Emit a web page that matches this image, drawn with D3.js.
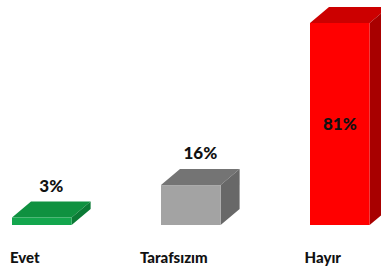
<!DOCTYPE html>
<html>
<head>
<meta charset="utf-8">
<script src="https://cdn.jsdelivr.net/npm/d3@7"></script>
<style>
  body { margin: 0; background: #fff; }
  svg { display: block; font-family: Lato, "Open Sans", sans-serif; }
</style>
</head>
<body>
<div id="chart"></div>
<script>
// data
const categories = ["Evet", "Tarafsızım", "Hayır"];
const values = [3, 16, 81];
const frontColors = ["#13a64d", "#a3a3a3", "#ff0000"];
const topColors = ["#0f9140", "#747474", "#cc0000"];
const sideColors = ["#0b7a35", "#686868", "#a80000"];

const w = 381;
const h = 269;
const baseY = 225;
const depthX = 19;
const depthY = 16;

const svg = d3.select("#chart")
  .append("svg")
  .attr("width", w)
  .attr("height", h);

const xScale = d3.scaleBand()
  .domain(categories)
  .range([12, 369.6])
  .paddingInner(0.6)
  .paddingOuter(0);

const yScale = d3.scaleLinear()
  .domain([0, 81])
  .range([baseY, 23]);

const bw = xScale.bandwidth();

const bars = svg.append("g")
  .selectAll("g")
  .data(values)
  .enter()
  .append("g");

// top face
bars.append("path")
  .attr("fill", (d, i) => topColors[i])
  .attr("d", (d, i) => {
    const x = xScale(categories[i]);
    const y = yScale(d);
    return `M${x},${y} L${x + depthX},${y - depthY} L${x + bw + depthX},${y - depthY} L${x + bw},${y} Z`;
  });

// side face
bars.append("path")
  .attr("fill", (d, i) => sideColors[i])
  .attr("d", (d, i) => {
    const x = xScale(categories[i]) + bw;
    const y = yScale(d);
    return `M${x},${y} L${x + depthX},${y - depthY} L${x + depthX},${baseY - depthY} L${x},${baseY} Z`;
  });

// front face
bars.append("rect")
  .attr("fill", (d, i) => frontColors[i])
  .attr("x", (d, i) => xScale(categories[i]))
  .attr("y", d => yScale(d))
  .attr("width", bw)
  .attr("height", d => baseY - yScale(d));

// value labels: above the box, or inside when there is no room
bars.append("text")
  .attr("text-anchor", "middle")
  .attr("font-size", "17px")
  .attr("font-weight", "900")
  .attr("fill", "#111")
  .attr("x", (d, i) => {
    const inside = yScale(d) - depthY - 30 < 0;
    return xScale(categories[i]) + bw / 2 + (inside ? 0 : depthX / 2);
  })
  .attr("y", d => {
    const top = yScale(d);
    if (top - depthY - 30 < 0) {
      return (top + baseY) / 2 + 6;
    }
    return top - depthY - 10;
  })
  .text(d => d + "%");

// category labels
svg.append("g")
  .selectAll("text")
  .data(categories)
  .enter()
  .append("text")
  .attr("text-anchor", "middle")
  .attr("font-size", "15px")
  .attr("font-weight", "900")
  .attr("fill", "#111")
  .attr("x", d => xScale(d) + bw / 2 - 17)
  .attr("y", 263)
  .text(d => d);
</script>
</body>
</html>
